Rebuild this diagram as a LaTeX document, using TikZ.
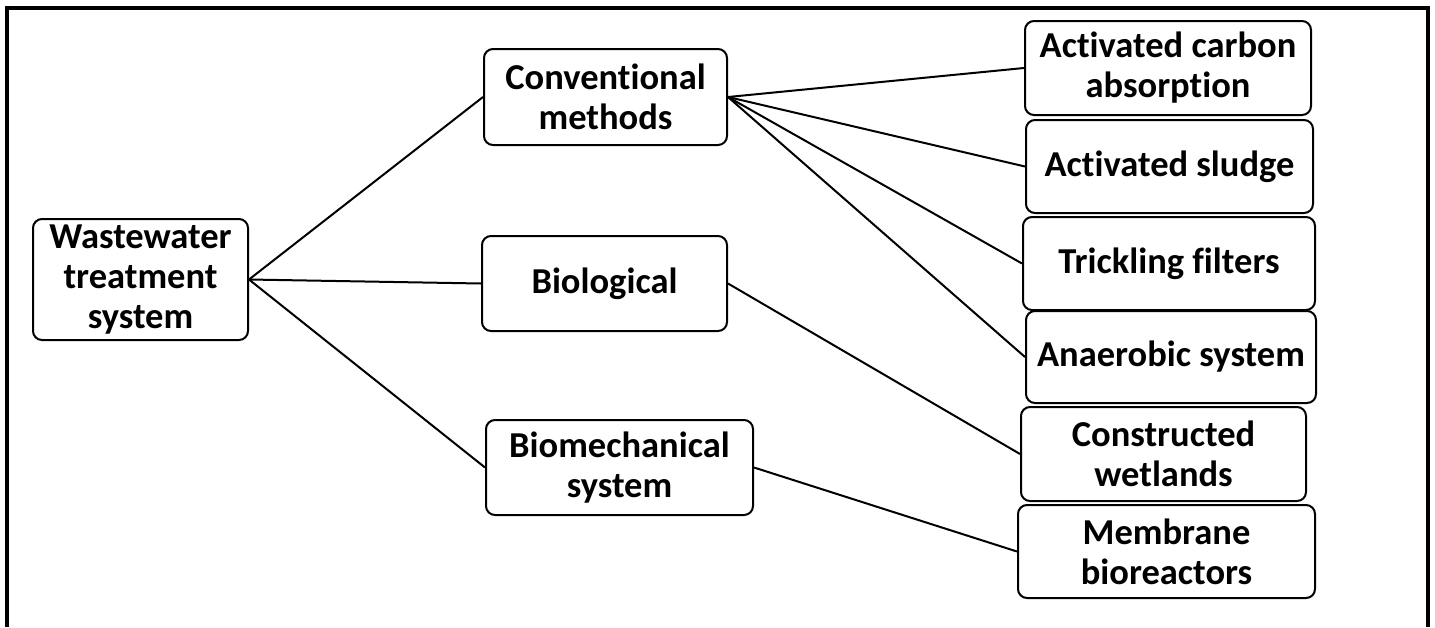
\documentclass[tikz,border=0pt]{standalone}
\usepackage{fontspec}
\setmainfont[Ligatures={NoCommon}]{Carlito}
\begin{document}
\begin{tikzpicture}[x=1pt,y=-1pt,
  box/.style={draw, line width=2pt, rounded corners=9pt, align=center, inner sep=0pt,
    font=\fontsize{36.5}{40}\selectfont\bfseries},
  link/.style={line width=2pt}]
\useasboundingbox (0,0) rectangle (1435,627);
\draw[line width=4pt] (7,627) -- (7,8) -- (1428,8) -- (1428,627);
\node[box, minimum width=215pt, minimum height=121pt] (ww) at (140.5,279.5) {Wastewater\\treatment\\system};
\node[box, minimum width=243pt, minimum height=96pt] (conv) at (605.5,97) {Conventional\\methods};
\node[box, minimum width=245pt, minimum height=95pt] (bio) at (604.5,283.5) {Biological};
\node[box, minimum width=267pt, minimum height=95pt] (biom) at (619.5,467.5) {Biomechanical\\system};
\node[box, minimum width=286pt, minimum height=94pt] (carb) at (1168,68) {Activated carbon\\absorption};
\node[box, minimum width=287pt, minimum height=93pt] (sludge) at (1169.5,166.5) {Activated sludge};
\node[box, minimum width=292pt, minimum height=93pt] (trick) at (1169,263.5) {Trickling filters};
\node[box, minimum width=290pt, minimum height=92pt] (anaer) at (1171,357) {Anaerobic system};
\node[box, minimum width=285pt, minimum height=94pt] (wet) at (1163.5,454) {Constructed\\wetlands};
\node[box, minimum width=297pt, minimum height=93pt] (mem) at (1166.5,551.5) {Membrane\\bioreactors};
\draw[link] (ww.east) -- (conv.west);
\draw[link] (ww.east) -- (bio.west);
\draw[link] (ww.east) -- (biom.west);
\draw[link] (conv.east) -- (carb.west);
\draw[link] (conv.east) -- (sludge.west);
\draw[link] (conv.east) -- (trick.west);
\draw[link] (conv.east) -- (anaer.west);
\draw[link] (bio.east) -- (wet.west);
\draw[link] (biom.east) -- (mem.west);
\end{tikzpicture}
\end{document}
